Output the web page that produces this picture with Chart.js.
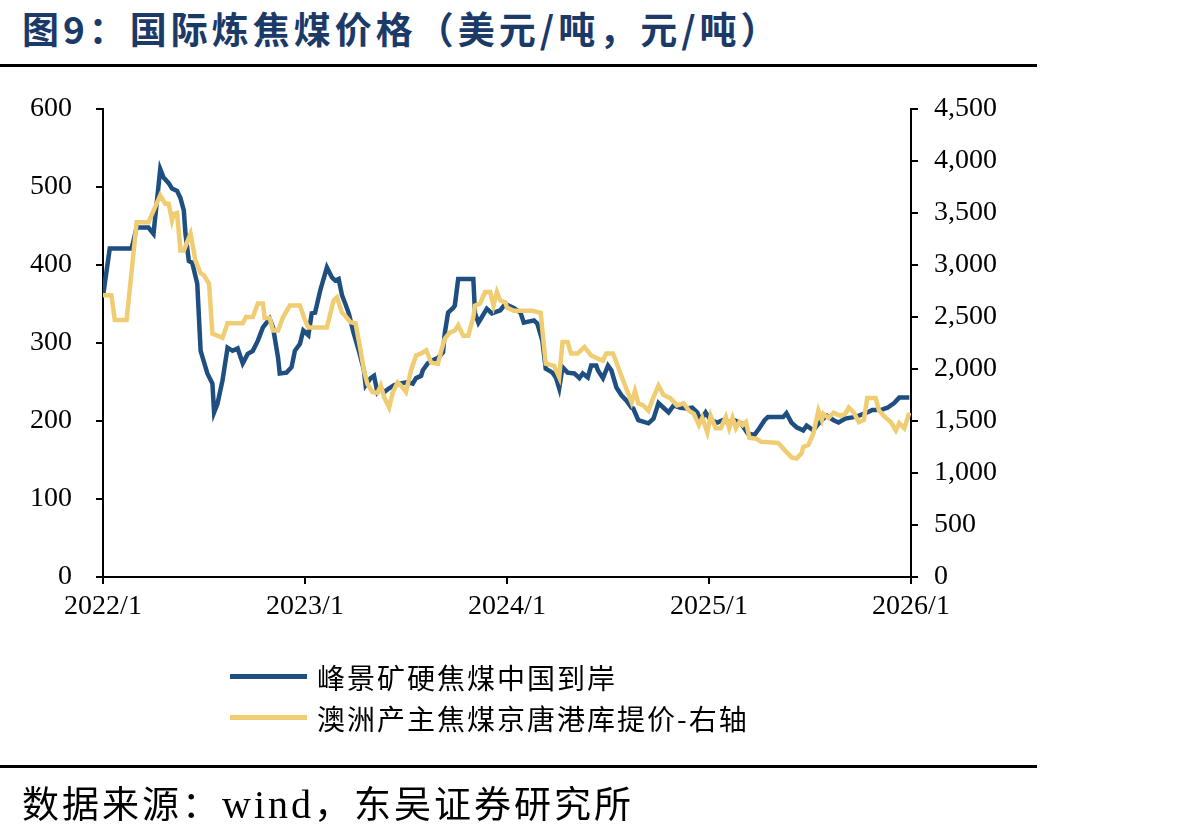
<!DOCTYPE html>
<html>
<head>
<meta charset="utf-8">
<script src="https://cdn.jsdelivr.net/npm/chart.js@4"></script>
<style>
  html, body { margin: 0; padding: 0; background: #fff; }
  body { width: 1191px; height: 838px; position: relative; overflow: hidden; }
  #chart { position: absolute; left: 0; top: 0; }
  .title { position: absolute; left: 22px; top: 1px; font-family: "Noto Sans CJK SC", sans-serif; font-weight: bold;
           font-size: 37px; letter-spacing: 4px; color: #1b3a68; white-space: nowrap; }
  .rule { position: absolute; left: 0; width: 1037px; height: 3px; background: #000; }
  .source { position: absolute; left: 22px; top: 775px; font-family: "Noto Sans CJK SC", sans-serif;
            font-size: 37px; letter-spacing: 3px; color: #000; white-space: nowrap; }
  .source .en { font-family: "Liberation Serif", serif; font-size: 40px; }
  #legend { position: absolute; left: 230px; top: 656px; font-family: "Noto Sans CJK SC", sans-serif; font-size: 28px; letter-spacing: 2px; }
  #legend .item { height: 41px; display: flex; align-items: center; white-space: nowrap; }
  #legend .swatch { width: 77px; height: 5px; margin-right: 10px; }
</style>
</head>
<body>
<div class="title">图9：国际炼焦煤价格（美元/吨，元/吨）</div>
<div class="rule" style="top:64px"></div>
<canvas id="chart" width="1191" height="838"></canvas>
<div id="legend"></div>
<div class="rule" style="top:765px"></div>
<div class="source">数据来源：<span class="en">wind</span>，东吴证券研究所</div>
<script>
// x = months since 2022/1
const blueMonths = [0,0.4,1.7,2.0,2.7,3.0,3.4,3.6,3.9,4.1,
  4.4,4.6,4.8,4.9,5.1,5.3,5.6,5.8,6.2,6.5,
  6.6,6.8,7.1,7.4,7.7,8.0,8.3,8.6,8.9,9.2,
  9.5,9.9,10.1,10.4,10.5,10.9,11.2,11.4,11.7,11.9,
  12.2,12.4,12.6,12.9,13.3,13.6,13.8,14.0,14.2,14.4,
  14.6,14.9,15.2,15.5,15.6,15.9,16.1,16.3,16.5,16.7,
  17.0,17.3,17.7,18.1,18.4,18.6,18.9,19.0,19.3,19.6,
  19.9,20.2,20.3,20.5,20.8,20.9,21.1,22.0,22.1,22.3,
  22.5,22.8,23.1,23.6,23.9,24.4,24.8,25.0,25.6,25.8,
  26.1,26.3,26.7,26.9,27.1,27.3,27.6,28.0,28.3,28.5,
  28.8,29.0,29.3,29.4,29.7,30.0,30.2,30.5,30.8,31.1,
  31.4,31.5,31.8,32.4,32.7,33.0,33.3,33.6,33.9,34.3,
  34.7,35.0,35.3,35.5,35.8,36.1,36.5,36.8,37.1,37.5,
  37.9,38.3,38.7,39.0,39.3,39.5,40.4,40.6,40.9,41.2,
  41.6,41.8,42.2,42.4,42.7,43.0,43.4,43.7,44.1,44.6,
  44.9,45.3,45.7,46.2,46.6,47.0,47.3,47.9];
const blueValues = [360,421,421,448,448,440,523,512,505,498,
  495,486,470,440,405,403,376,290,261,248,
  211,222,252,294,290,293,274,286,290,303,
  320,331,320,281,261,262,269,290,299,316,
  310,338,339,367,397,384,380,382,361,350,
  338,312,290,265,246,255,258,237,242,237,
  242,246,248,250,248,255,258,265,274,278,
  281,288,312,339,345,348,382,382,338,326,
  333,344,338,342,350,345,339,326,329,325,
  303,267,262,256,242,269,262,261,255,261,
  256,271,271,265,255,271,265,243,233,226,
  217,216,201,197,203,223,217,211,220,217,
  216,217,211,201,211,201,198,201,198,201,
  197,184,182,191,201,205,205,210,198,192,
  188,194,188,194,201,207,201,198,203,205,
  207,210,214,214,217,223,230,230];

const yellowMonths = [0,0.5,0.7,1.4,2.0,2.7,3.4,3.7,3.9,4.1,
  4.2,4.4,4.6,4.8,5.2,5.5,5.8,6.0,6.3,6.5,
  7.1,7.4,8.3,8.5,8.9,9.2,9.5,9.6,9.9,10.1,
  10.4,10.7,11.1,11.7,12.0,12.2,13.3,13.7,13.9,14.2,
  14.4,14.7,15.0,15.3,15.5,15.7,16.0,16.3,16.5,16.7,
  17.0,17.2,17.5,17.7,18.0,18.3,18.6,18.9,19.2,19.5,
  19.9,20.1,20.3,20.6,20.9,21.1,21.4,21.7,22.0,22.1,
  22.4,22.7,23.0,23.2,23.4,23.6,23.9,24.0,24.4,25.5,
  26.0,26.3,26.8,27.1,27.3,27.6,27.8,28.2,28.6,29.0,
  29.4,29.7,29.9,30.3,30.6,30.9,31.4,31.6,31.8,32.1,
  32.4,32.7,33.0,33.3,33.7,34.1,34.5,34.8,35.1,35.4,
  35.6,35.9,36.1,36.4,36.7,37.0,37.2,37.4,37.6,37.8,
  38.0,38.2,38.4,38.8,39.1,40.1,40.5,40.9,41.2,41.5,
  41.6,41.9,42.2,42.5,42.7,42.8,43.1,43.4,43.8,44.1,
  44.3,44.6,44.9,45.2,45.4,45.9,46.1,46.5,46.8,47.1,
  47.3,47.6,47.9];
const yellowValues = [2710,2710,2470,2470,3410,3410,3670,3590,3590,3430,
  3490,3500,3140,3140,3300,3040,2920,2900,2820,2340,
  2300,2440,2440,2500,2500,2630,2630,2490,2490,2370,
  2370,2500,2610,2610,2470,2400,2400,2660,2690,2540,
  2510,2450,2440,2180,1990,1860,1780,1770,1840,1730,
  1630,1770,1870,1840,1780,1990,2130,2150,2180,2060,
  2050,2180,2290,2350,2370,2420,2320,2320,2500,2610,
  2630,2740,2740,2610,2740,2660,2640,2590,2560,2560,
  2540,2050,2030,1920,2260,2260,2150,2150,2210,2130,
  2100,2080,2150,2150,2020,1890,1680,1790,1670,1650,
  1600,1730,1840,1750,1720,1650,1670,1600,1570,1460,
  1530,1390,1550,1430,1430,1540,1430,1530,1430,1490,
  1460,1490,1340,1330,1300,1290,1220,1150,1140,1190,
  1250,1270,1380,1600,1510,1570,1530,1580,1550,1570,
  1630,1580,1490,1510,1720,1720,1600,1530,1490,1410,
  1480,1430,1580];

const seriesNames = ['峰景矿硬焦煤中国到岸', '澳洲产主焦煤京唐港库提价-右轴'];
const seriesColors = ['#1f4e80', '#f0cd72'];
const startYear = 2022;

const toPoints = (xs, ys) => xs.map((x, i) => ({ x: x, y: ys[i] }));
const serif = 'Liberation Serif';

const ctx = document.getElementById('chart');
const chart = new Chart(ctx, {
  type: 'line',
  data: {
    datasets: [{
      label: seriesNames[0],
      data: toPoints(blueMonths, blueValues),
      borderColor: seriesColors[0],
      backgroundColor: seriesColors[0],
      borderWidth: 4.5,
      pointRadius: 0,
      yAxisID: 'y',
      order: 1
    }, {
      label: seriesNames[1],
      data: toPoints(yellowMonths, yellowValues),
      borderColor: seriesColors[1],
      backgroundColor: seriesColors[1],
      borderWidth: 4.5,
      pointRadius: 0,
      yAxisID: 'y1',
      order: 0
    }]
  },
  options: {
    responsive: false,
    animation: false,
    layout: { padding: { top: 109, left: 0, right: 180, bottom: 201 } },
    plugins: { legend: { display: false }, tooltip: { enabled: false } },
    scales: {
      x: {
        type: 'linear',
        min: 0, max: 48,
        afterFit: s => { s.height = 60 },
        afterBuildTicks: s => { s.ticks = [0, 12, 24, 36, 48].map(v => ({ value: v })) },
        grid: { drawOnChartArea: false, drawTicks: true, tickLength: 7, color: '#000', lineWidth: 2 },
        border: { color: '#000', width: 2 },
        ticks: {
          padding: 6,
          color: '#000',
          font: { family: serif, size: 28 },
          maxRotation: 0,
          callback: v => (startYear + v / 12) + '/1'
        }
      },
      y: {
        position: 'left',
        min: 0, max: 600,
        afterFit: s => { s.width = 103 },
        grid: { drawOnChartArea: false, drawTicks: true, tickLength: 7, color: '#000', lineWidth: 2 },
        border: { color: '#000', width: 2 },
        ticks: { stepSize: 100, padding: 24, color: '#000', font: { family: serif, size: 28 } }
      },
      y1: {
        position: 'right',
        min: 0, max: 4500,
        afterFit: s => { s.width = 100 },
        grid: { drawOnChartArea: false, drawTicks: true, tickLength: 7, color: '#000', lineWidth: 2 },
        border: { color: '#000', width: 2 },
        ticks: {
          stepSize: 500, padding: 16, color: '#000',
          font: { family: serif, size: 28 },
          callback: v => v.toLocaleString('en-US')
        }
      }
    }
  }
});

// legend stacked vertically, built from the datasets
const legend = document.getElementById('legend');
chart.data.datasets.forEach(ds => {
  const item = document.createElement('div');
  item.className = 'item';
  item.innerHTML = '<div class="swatch" style="background:' + ds.borderColor + '"></div><span>' + ds.label + '</span>';
  legend.appendChild(item);
});
</script>
</body>
</html>
